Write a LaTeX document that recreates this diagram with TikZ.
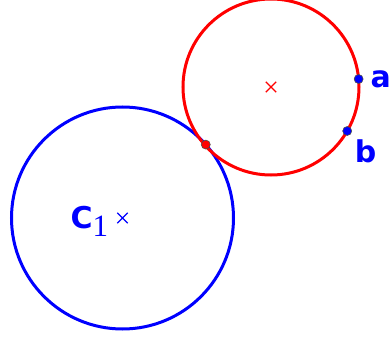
\documentclass[tikz,border=0pt]{standalone}
\usepackage{fontspec}
\setsansfont{DejaVu Sans}
\newfontfamily\tgserif{Liberation Serif}
\usetikzlibrary{positioning, shapes.misc, calc}
\definecolor{tgBlue}{HTML}{0000FF}
\definecolor{tgRed}{HTML}{FF0000}
\tikzset{
    tgCircle/.style={line width=3pt},
    tgCentre/.style={cross out, draw, line width=1.4pt, minimum size=9pt, inner sep=0pt},
    tgPoint/.style={circle, draw=black!70, line width=0.6pt, minimum size=9pt, inner sep=0pt},
    tgLabel/.style={inner sep=0pt, text=tgBlue, font=\fontsize{30}{34}\selectfont\sffamily\bfseries}
}

\begin{document}
\begin{tikzpicture}[x=1pt, y=1pt]
\useasboundingbox (0,0) rectangle (392,341);

% centres
\node[tgCentre, draw=tgBlue] (c1) at (122.5,123) {};
\node[tgCentre, draw=tgRed] (c2) at (271,254) {};

% circles
\draw[tgCircle, tgBlue] (c1.center) circle (111);
\draw[tgCircle, tgRed] (c2.center) circle (88);

% points on the circles
\node[tgPoint, fill=tgRed] (t) at ($(c1.center)+(41.4:111)$) {};
\node[tgPoint, fill=tgBlue] (a) at ($(c2.center)+(5.2:88)$) {};
\node[tgPoint, fill=tgBlue] (b) at ($(c2.center)+(-30:88)$) {};

% labels
\node[tgLabel, right=7pt of a] (alabel) {a};
\node[tgLabel, below right=5pt and 4pt of b, anchor=north west] (blabel) {b};
\node[tgLabel, left=9pt of c1, yshift=-3pt] (c1label) {C\raisebox{-8pt}{\fontsize{31}{34}\selectfont\tgserif\mdseries 1}};
\end{tikzpicture}
\end{document}
